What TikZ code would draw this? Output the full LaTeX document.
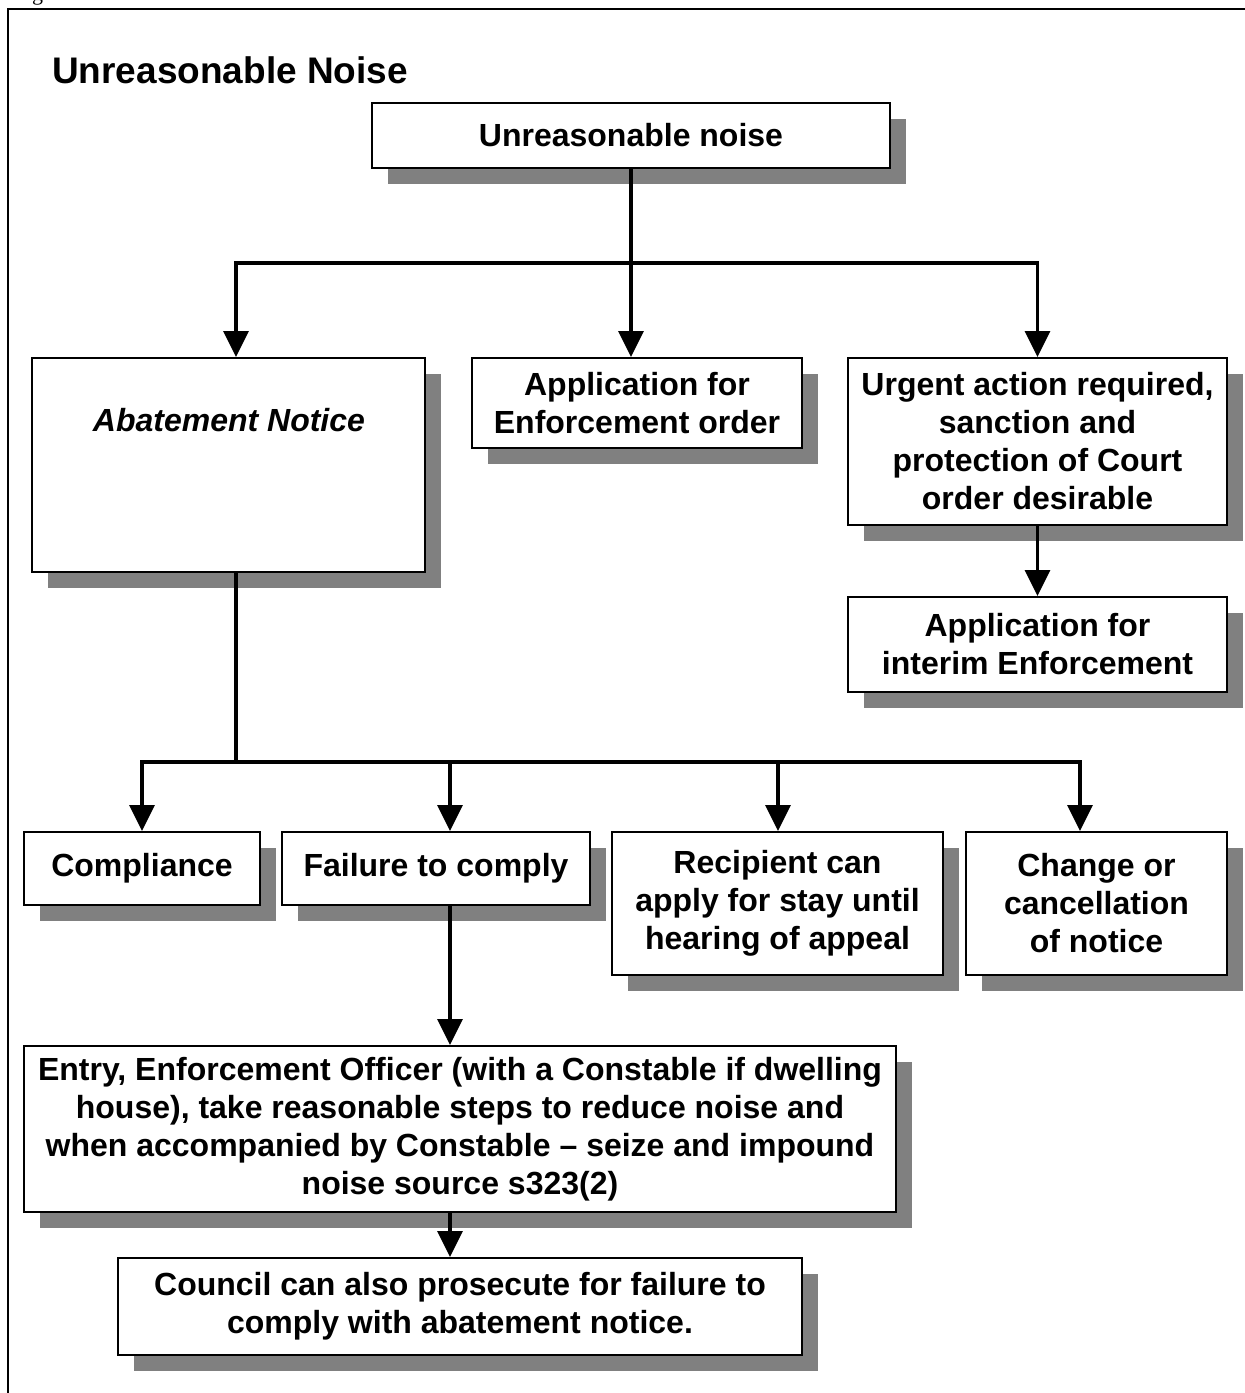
\documentclass[tikz,border=0pt]{standalone}
\usepackage{fontspec}
\setmainfont{Liberation Sans}
\newfontfamily\serifpart{Liberation Serif}
\usetikzlibrary{arrows.meta,shadows}
\definecolor{shadowgray}{RGB}{128,128,128}
\begin{document}
\begin{tikzpicture}[x=1pt,y=-1pt,
  box/.style={draw=black, line width=2pt, fill=white, inner sep=0pt, align=center,
    font=\bfseries\fontsize{32}{38}\selectfont,
    drop shadow={shadow xshift=16pt, shadow yshift=-16pt, fill=shadowgray, opacity=1}},
  conn/.style={line width=3.5pt},
  arr/.style={conn, -{Triangle[width=25pt,length=26pt]}},
  framebox/.style={line width=2pt},
]
\useasboundingbox (0,0) rectangle (1245,1393);
\clip (0,0) rectangle (1245,1393);
\fill[white] (0,0) rectangle (1245,1393);

% fragment of text above the frame
\node[font=\serifpart\fontsize{22}{26}\selectfont, anchor=base, inner sep=0pt] (frag) at (37.5,0) {g};

% outer frame
\draw[framebox] (8,9) rectangle (1300,1450);

% title
\node[anchor=base west, inner sep=0pt, font=\bfseries\fontsize{37}{44}\selectfont] (title) at (52,83) {Unreasonable Noise};

% boxes
\node[box, minimum width=518pt, minimum height=65pt] (top) at (631,135.5) {Unreasonable noise};
\node[box, minimum width=393pt, minimum height=214pt] (abate) at (228.5,465) {};
\node[font=\bfseries\itshape\fontsize{32}{38}\selectfont, inner sep=0pt] (abatelbl) at (229,420) {Abatement Notice};
\node[box, minimum width=330pt, minimum height=90pt] (enf) at (637,403) {Application for\\Enforcement order};
\node[box, minimum width=379pt, minimum height=167pt] (urg) at (1037.5,441.5) {Urgent action required,\\sanction and\\protection of Court\\order desirable};
\node[box, minimum width=379pt, minimum height=95pt] (interim) at (1037.5,644.5) {Application for\\interim Enforcement};

\node[box, minimum width=236pt, minimum height=73pt] (comp) at (142,868.5) {Compliance};
\node[box, minimum width=308pt, minimum height=73pt] (fail) at (436,868.5) {Failure to comply};
\node[box, minimum width=331pt, minimum height=143pt] (recip) at (777.5,903.5) {Recipient can\\apply for stay until\\hearing of appeal};
\node[box, minimum width=261pt, minimum height=143pt] (change) at (1096.5,903.5) {Change or\\cancellation\\of notice};
\node[box, minimum width=872pt, minimum height=166pt] (entry) at (460,1129) {Entry, Enforcement Officer (with a Constable if dwelling\\house), take reasonable steps to reduce noise and\\when accompanied by Constable -- seize and impound\\noise source s323(2)};
\node[box, minimum width=684pt, minimum height=97pt] (council) at (460,1306.5) {Council can also prosecute for failure to\\comply with abatement notice.};

% junction coordinates
\coordinate (tj) at (631,263);
\coordinate (tl) at (236,263);
\coordinate (tr) at (1037.5,263);
\coordinate (bj) at (236,762);
\coordinate (b1) at (142,762);
\coordinate (b2) at (450,762);
\coordinate (b3) at (778,762);
\coordinate (b4) at (1080,762);

% upper connectors
\draw[arr] (top.south) -- (top.south |- enf.north);
\draw[arr] (tj) -| (tl |- abate.north);
\draw[arr] (tj) -| (tr |- urg.north);
\draw[arr] (urg.south) -- (interim.north);

% lower connectors
\draw[conn] (bj |- abate.south) -- (bj);
\draw[arr] (bj) -| (b1 |- comp.north);
\draw[arr] (bj) -| (b4 |- change.north);
\draw[arr] (b2) -- (b2 |- fail.north);
\draw[arr] (b3) -- (b3 |- recip.north);
\draw[arr] (b2 |- fail.south) -- (b2 |- entry.north);
\draw[arr] (b2 |- entry.south) -- (b2 |- council.north);
\end{tikzpicture}
\end{document}
